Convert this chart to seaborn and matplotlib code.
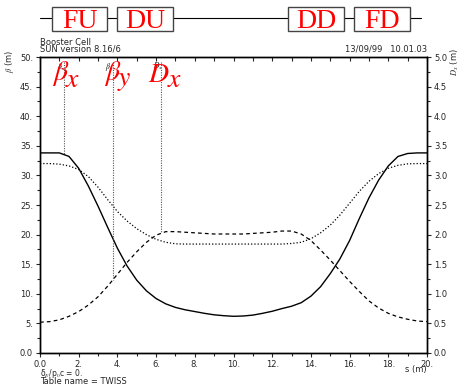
import numpy as np
import pandas as pd
import matplotlib
matplotlib.use("Agg")
import matplotlib.pyplot as plt
import seaborn as sns
from matplotlib.patches import Rectangle

# Twiss functions
s = [0.0, 0.5, 1.0, 1.5, 2.0, 2.5, 3.0, 3.5, 4.0, 4.5,
     5.0, 5.5, 6.0, 6.5, 7.0, 7.5, 8.0, 8.5, 9.0, 9.5,
     10.0, 10.5, 11.0, 11.5, 12.0, 12.5, 13.0, 13.5, 14.0, 14.5,
     15.0, 15.5, 16.0, 16.5, 17.0, 17.5, 18.0, 18.5, 19.0, 19.5, 20.0]
beta_x = [33.8, 33.8, 33.8, 33.2, 31.2, 28.2, 24.8, 21.2, 17.7, 14.7,
          12.3, 10.5, 9.2, 8.3, 7.7, 7.3, 7.0, 6.7, 6.45, 6.3,
          6.2, 6.25, 6.4, 6.7, 7.05, 7.5, 7.9, 8.5, 9.6, 11.2,
          13.4, 15.9, 19.0, 22.7, 26.2, 29.2, 31.6, 33.2, 33.7, 33.8, 33.8]
beta_y = [32.0, 32.0, 31.9, 31.6, 31.0, 29.8, 28.0, 25.9, 23.9, 22.3,
          21.0, 20.0, 19.2, 18.7, 18.45, 18.4, 18.4, 18.4, 18.4, 18.4,
          18.4, 18.4, 18.4, 18.4, 18.4, 18.4, 18.5, 18.7, 19.3, 20.3,
          21.6, 23.3, 25.3, 27.3, 29.0, 30.3, 31.2, 31.7, 31.95, 32.0, 32.0]
disp_x = [0.52, 0.53, 0.56, 0.62, 0.70, 0.81, 0.95, 1.13, 1.33, 1.53,
          1.71, 1.87, 1.99, 2.05, 2.05, 2.04, 2.03, 2.02, 2.01, 2.01,
          2.01, 2.01, 2.02, 2.03, 2.04, 2.06, 2.06, 2.01, 1.90, 1.74,
          1.57, 1.39, 1.21, 1.04, 0.88, 0.76, 0.67, 0.61, 0.57, 0.54, 0.53]

# lattice elements (s in m)
elements = ["FU", "DU", "DD", "FD"]
elem_start = [0.62, 3.98, 12.82, 16.23]
elem_end = [3.46, 6.87, 15.71, 19.12]
line_end = 19.69

# curve markers
marker_names = [r"$\beta_x$", r"$\beta_y$", r"$D_x$"]
marker_s = [1.26, 3.75, 6.25]
marker_end = [33.5, 12.3, 20.4]

x_ticks = [0, 2, 4, 6, 8, 10, 12, 14, 16, 18, 20]
x_labels = ["0.0", "2.", "4.", "6.", "8.", "10.", "12.", "14.", "16.", "18.", "20."]
y_ticks = [0, 5, 10, 15, 20, 25, 30, 35, 40, 45, 50]
y_labels = ["0.0", "5.", "10.", "15.", "20.", "25.", "30.", "35.", "40.", "45.", "50."]
d_ticks = [0.0, 0.5, 1.0, 1.5, 2.0, 2.5, 3.0, 3.5, 4.0, 4.5, 5.0]
d_labels = ["0.0", "0.5", "1.0", "1.5", "2.0", "2.5", "3.0", "3.5", "4.0", "4.5", "5.0"]

df = pd.DataFrame({"s": s, "beta_x": beta_x, "beta_y": beta_y, "D_x": disp_x})

sns.set_style("ticks")
plt.rcParams["font.family"] = ["DejaVu Sans"]
plt.rcParams["mathtext.fontset"] = "stix"

W, H = 460, 386
fig = plt.figure(figsize=(W / 100, H / 100), dpi=100)


def fx(px):
    return px / W


def fy(py):
    return 1 - py / H


ax = fig.add_axes([fx(40), fy(353), 387 / W, 296 / H])
sns.lineplot(data=df, x="s", y="beta_x", ax=ax, color="black", lw=1.0)
sns.lineplot(data=df, x="s", y="beta_y", ax=ax, color="black", lw=0.9,
             linestyle=(0, (1, 1.6)))
ax.set_xlim(0, 20)
ax.set_ylim(0, 50)
ax.set_xlabel("")
ax.set_ylabel("")
ax.set_xticks(x_ticks, x_labels)
ax.set_xticks(np.arange(1, 20, 2), minor=True)
ax.set_yticks(y_ticks, y_labels)
ax.set_yticks(np.arange(2.5, 50, 5), minor=True)
ax.tick_params(which="major", direction="out", length=3, width=0.8, labelsize=6, pad=2)
ax.tick_params(which="minor", direction="out", length=2, width=0.8)

top = ax.secondary_xaxis("top")
top.set_xticks(x_ticks, [""] * len(x_ticks))
top.set_xticks(np.arange(1, 20, 2), minor=True)
top.tick_params(which="both", direction="in", length=3, width=0.8)

ax2 = ax.twinx()
sns.lineplot(data=df, x="s", y="D_x", ax=ax2, color="black", lw=0.9,
             linestyle=(0, (3, 2.5)))
ax2.set_ylim(0, 5)
ax2.set_ylabel("")
ax2.set_yticks(d_ticks, d_labels)
ax2.set_yticks(np.arange(0.25, 5, 0.5), minor=True)
ax2.tick_params(which="major", direction="out", length=3, width=0.8, labelsize=6, pad=2)
ax2.tick_params(which="minor", direction="out", length=2, width=0.8)

for a in (ax, ax2):
    for sp in a.spines.values():
        sp.set_linewidth(1.0)
        sp.set_color("black")
top.spines["top"].set_visible(False)

# curve markers
for name, xs, ye in zip(marker_names, marker_s, marker_end):
    ax.plot([xs, xs], [49.2, ye], color="#555555", lw=0.8, linestyle=(0, (1, 1.2)))
    ax.text(xs - 0.15, 48.0, name, fontsize=5.5, ha="center", color="black")

# red overlays
fig.text(fx(52), fy(80), r"$\beta$", fontsize=20, color="red", va="baseline")
fig.text(fx(65), fy(87), r"$x$", fontsize=20, color="red", va="baseline")
fig.text(fx(104), fy(80), r"$\beta$", fontsize=20, color="red", va="baseline")
fig.text(fx(117), fy(85), r"$y$", fontsize=20, color="red", va="baseline")
fig.text(fx(148), fy(82), r"$D$", fontsize=20, color="red", va="baseline")
fig.text(fx(167), fy(87), r"$x$", fontsize=20, color="red", va="baseline")

# element bar
lat = fig.add_axes([fx(40), fy(35), 387 / W, 35 / H])
lat.set_xlim(0, 20)
lat.set_ylim(35, 0)
lat.axis("off")
lat.plot([0, line_end], [18.3, 18.3], color="black", lw=0.8)
for name, a, b in zip(elements, elem_start, elem_end):
    lat.add_patch(Rectangle((a, 6.5), b - a, 24, facecolor="white",
                            edgecolor="#444444", lw=1.0, zorder=3))
    lat.text((a + b) / 2, 28, name, fontsize=20, color="red", ha="center",
             va="baseline", family="Liberation Serif", zorder=4)

# header and footer texts
fig.text(fx(40), fy(45), "Booster Cell", fontsize=6, va="baseline")
fig.text(fx(40), fy(52), "SUN version 8.16/6", fontsize=6, va="baseline")
fig.text(fx(427), fy(52), "13/09/99   10.01.03", fontsize=6, va="baseline", ha="right")
fig.text(fx(10), fy(61), r"$\beta$ (m)", fontsize=6, rotation=90, ha="center", va="center")
fig.text(fx(455), fy(62), r"$D_x$ (m)", fontsize=6, rotation=90, ha="center", va="center")
fig.text(fx(416), fy(369.5), "s (m)", fontsize=6, ha="center", va="center")
fig.text(fx(40), fy(376), "δ$_E$/p$_0$c = 0.", fontsize=5.5, va="baseline")
fig.text(fx(40), fy(384.5), "Table name = TWISS", fontsize=6, va="baseline")

fig.savefig("out.png", dpi=100)
